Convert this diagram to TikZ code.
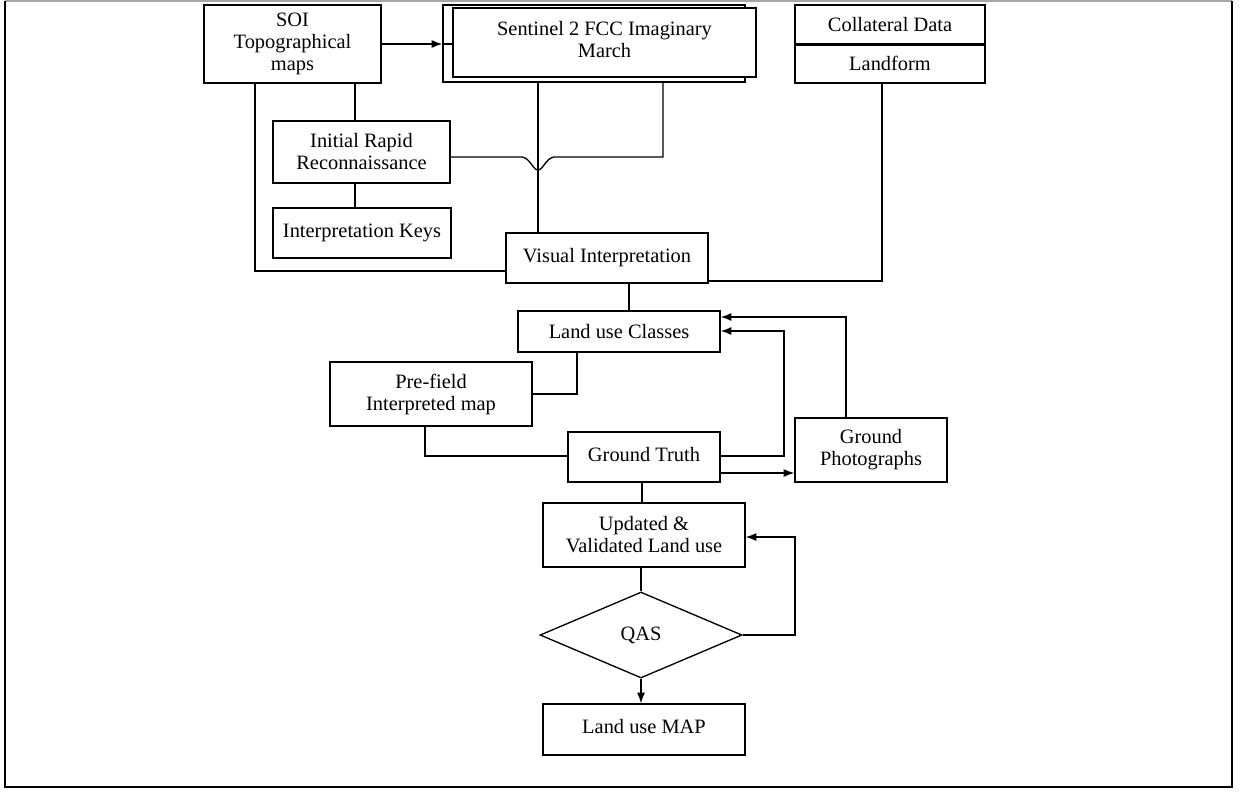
\documentclass[tikz,border=0pt]{standalone}
\usepackage{fontspec}
\setmainfont{Liberation Serif}
\usetikzlibrary{arrows.meta,shapes.geometric,calc}
\newcommand{\up}[1]{\raisebox{4pt}{#1}}
\begin{document}
\begin{tikzpicture}[x=0.75pt,y=-0.75pt,
  box/.style={draw,line width=1pt,rectangle,inner sep=1pt,align=center,
    font=\fontsize{15.3}{16.5}\selectfont},
  link/.style={line width=1pt},
  arr/.style={line width=1pt,-{Latex[length=8pt,width=6pt]}}]
\useasboundingbox (0,0) rectangle (1241,794);
% outer frame
\draw[gray!70,line width=0.8pt] (5,1) -- (1232,1);
\draw[line width=1.6pt] (5,1) -- (5,787) -- (1232,787) -- (1232,1);
% nodes
\node[box,minimum width=132.75pt,minimum height=58.5pt] (soi) at (292.5,44) {SOI\\Topographical\\maps};
\node[box,minimum width=226.5pt,minimum height=57.75pt] (sentback) at (594,43.5) {};
\node[box,fill=white,minimum width=227.25pt,minimum height=51.75pt] (sent) at (604.5,42.5) {\up{Sentinel 2 FCC Imaginary}\\\up{March}};
\node[box,minimum width=142.5pt,minimum height=29.25pt] (collA) at (890,24.5) {Collateral Data};
\node[box,minimum width=142.5pt,minimum height=29.25pt] (collB) at (890,63.5) {Landform};
\draw[line width=1.8pt] (collA.south west) -- (collA.south east);
\node[box,minimum width=132.75pt,minimum height=46.5pt] (irr) at (361.5,152) {Initial Rapid\\Reconnaissance};
\node[box,minimum width=133.5pt,minimum height=37.5pt] (keys) at (362,233) {\up{Interpretation Keys}};
\node[box,minimum width=151.5pt,minimum height=37.5pt] (vi) at (607,258) {\up{Visual Interpretation}};
\node[box,minimum width=151.5pt,minimum height=30.75pt] (luc) at (619,331.5) {Land use Classes};
\node[box,minimum width=151.5pt,minimum height=48pt] (pre) at (431,394) {Pre-field\\Interpreted map};
\node[box,minimum width=114pt,minimum height=37.5pt] (gt) at (644,457) {\up{Ground Truth}};
\node[box,minimum width=114pt,minimum height=48pt] (gp) at (871,450) {Ground\\Photographs};
\node[box,minimum width=151.5pt,minimum height=48pt] (upd) at (644,535) {Updated \&\\Validated Land use};
\node[box,diamond,inner sep=0pt,minimum width=151.5pt,minimum height=64.5pt] (qas) at (641,635) {QAS};
\node[box,minimum width=151.5pt,minimum height=38.25pt] (map) at (644,729.5) {\up{Land use MAP}};
% connectors
\draw[arr] (soi.east) -- (soi.east -| sentback.west);
\draw[link] (soi.east -| sentback.west) -- (soi.east -| sent.west);
\draw[link] (soi.south -| 355,0) -- (irr.north -| 355,0);
\draw[link] (irr.south -| 355,0) -- (keys.north -| 355,0);
\draw[link] (soi.south -| 255,0) |- (vi.west |- 0,271);
\draw[link] (sentback.south -| 538,0) -- (vi.north -| 538,0);
\draw[link] (irr.east |- 0,157) -- (522,157) .. controls (530,158) and (533,170) .. (538,170) .. controls (543,170) and (546,158) .. (554,157) -- (663,157) -- (sentback.south -| 663,0);
\draw[link] (collB.south -| 882,0) |- (vi.east |- 0,281);
\draw[link] (vi.south -| 629,0) -- (luc.north -| 629,0);
\draw[link] (luc.south -| 577,0) |- (pre.east);
\draw[link] (pre.south -| 425,0) |- (gt.west |- 0,456);
\draw[arr] (gt.east |- 0,456) -| (784,331) -- (luc.east |- 0,331);
\draw[arr] (gp.north -| 846,0) |- (luc.east |- 0,317);
\draw[arr] (gt.east |- 0,473) -- (gp.west |- 0,473);
\draw[link] (gt.south -| 642,0) -- (upd.north -| 642,0);
\draw[link] (upd.south -| qas.north) -- (qas.north);
\draw[arr] (qas.south) -- (map.north -| qas.south);
\draw[arr] (qas.east) -| (795,537) -- (upd.east |- 0,537);
\end{tikzpicture}
\end{document}
